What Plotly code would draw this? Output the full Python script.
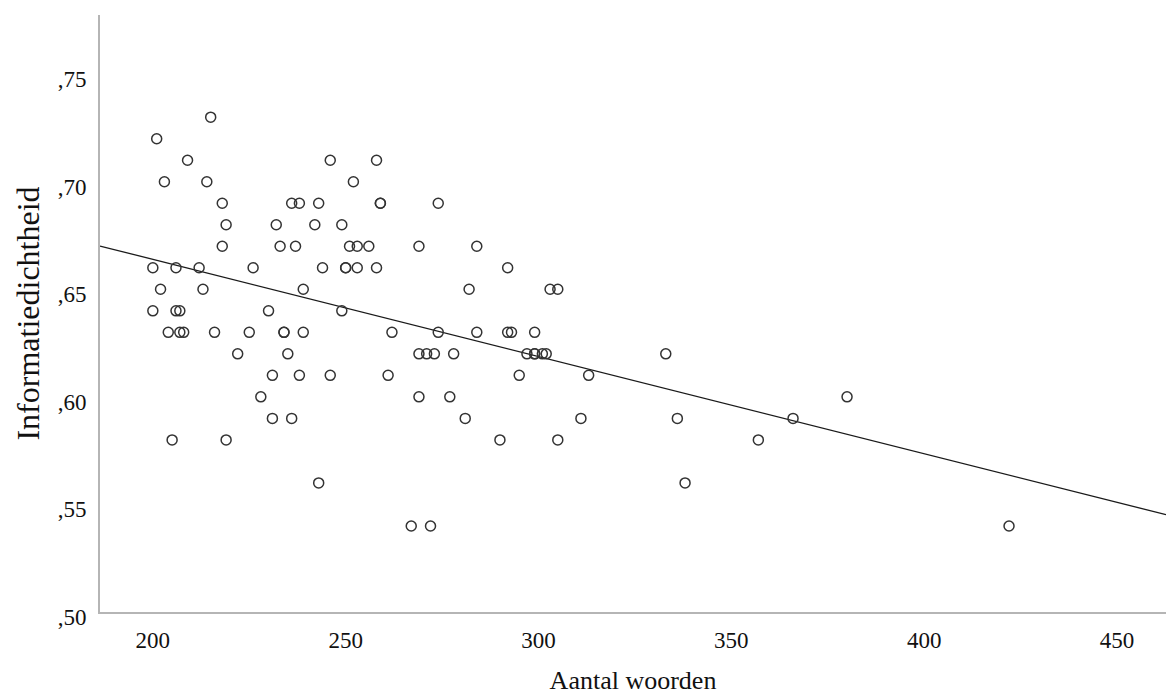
import numpy as np
import plotly.graph_objects as go

# Data: (Aantal woorden, Informatiedichtheid)
rows = {
    0.73: [215],
    0.72: [201],
    0.71: [209, 246, 258],
    0.70: [203, 214, 252],
    0.69: [218, 236, 238, 243, 259, 259, 274],
    0.68: [219, 232, 242, 249],
    0.67: [218, 233, 237, 251, 253, 256, 269, 284],
    0.66: [200, 206, 212, 226, 244, 250, 250, 253, 258, 292],
    0.65: [202, 213, 239, 282, 303, 305],
    0.64: [200, 206, 207, 230, 249],
    0.63: [204, 207, 208, 216, 225, 234, 234, 239, 262, 274, 284, 292, 293, 299],
    0.62: [222, 235, 269, 271, 273, 278, 297, 299, 299, 301, 302, 333],
    0.61: [231, 238, 246, 261, 295, 313],
    0.60: [228, 269, 277, 380],
    0.59: [231, 236, 281, 311, 336, 366],
    0.58: [205, 219, 290, 305, 357],
    0.56: [243, 338],
    0.54: [267, 272, 422],
}
aantal_woorden = [x for y, xs in rows.items() for x in xs]
informatiedichtheid = [y for y, xs in rows.items() for x in xs]

x_ticks = [200, 250, 300, 350, 400, 450]
y_ticks = [0.50, 0.55, 0.60, 0.65, 0.70, 0.75]
y_ticktext = [",50", ",55", ",60", ",65", ",70", ",75"]
x_range = [186.3, 462.7]
y_range = [0.50, 0.7775]

# Linear regression (fit line)
slope, intercept = np.polyfit(aantal_woorden, informatiedichtheid, 1)
fit_x = np.array(x_range)
fit_y = intercept + slope * fit_x

fig = go.Figure()
fig.add_trace(go.Scatter(
    x=fit_x, y=fit_y, mode="lines",
    line=dict(color="#1a1a1a", width=1.3),
    hoverinfo="skip", showlegend=False,
))
fig.add_trace(go.Scatter(
    x=aantal_woorden, y=informatiedichtheid, mode="markers",
    marker=dict(symbol="circle-open", size=10, color="#333333",
                line=dict(width=1.5)),
    showlegend=False,
))

font_family = "Liberation Serif, Times New Roman, serif"
fig.update_layout(
    width=1166, height=698,
    margin=dict(l=100, r=0, t=15, b=86),
    paper_bgcolor="white", plot_bgcolor="white",
    font=dict(family=font_family, size=23, color="#111111"),
    showlegend=False,
)
fig.update_xaxes(
    range=x_range, tickvals=x_ticks, showgrid=False, zeroline=False,
    showline=True, linecolor="#b5b5b5", linewidth=2, ticks="",
    ticklabelstandoff=6,
    title=dict(text="Aantal woorden", font=dict(size=26, family=font_family),
               standoff=19),
)
fig.update_yaxes(
    range=y_range, tickvals=y_ticks, ticktext=y_ticktext, showgrid=False,
    zeroline=False, showline=True, linecolor="#b5b5b5", linewidth=2, ticks="",
    ticklabelstandoff=7, ticklabelshift=5,
    title=dict(text="Informatiedichtheid", font=dict(size=32, family=font_family),
               standoff=8),
)

fig.write_html(
    "out.html",
    config={"displayModeBar": False},
    post_script="document.body.style.margin='0';document.body.style.overflow='hidden';",
)
